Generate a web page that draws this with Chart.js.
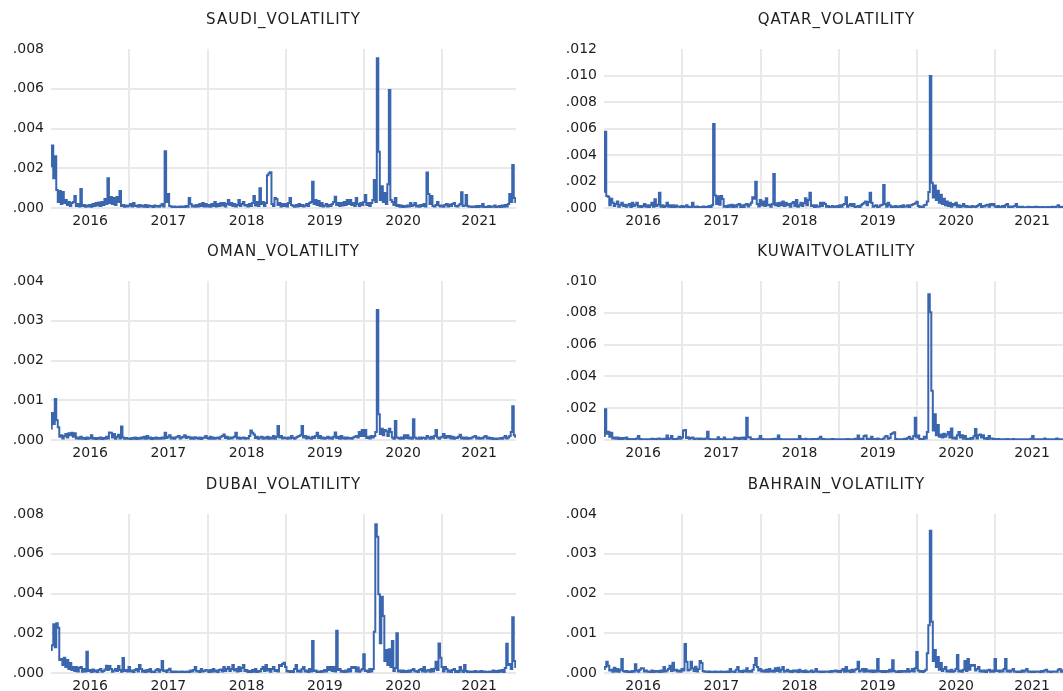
<!DOCTYPE html>
<html>
<head>
<meta charset="utf-8">
<title>GCC market volatility</title>
<script src="https://cdn.jsdelivr.net/npm/chart.js@4.4.1/dist/chart.umd.min.js"></script>
<style>
  html, body { margin: 0; padding: 0; background: #ffffff; }
  #wrap { position: relative; width: 1063px; height: 691px; overflow: hidden; background: #ffffff; }
  .panel { position: absolute; }
</style>
</head>
<body>
<div id="wrap"></div>
<script>
// Sample calendar: weekly observations, Jan 2016 to Dec 2021
const years = [2016, 2017, 2018, 2019, 2020, 2021];
const weeksPerYear = [52, 52, 52, 52, 52, 50];
const yearLabels = ['2016', '2017', '2018', '2019', '2020', '2021'];

// Volatility series, in units of 1e-5 (one row per year)
const UNIT = 1e-5;

const saudi = [
  210, 315, 150, 260, 90, 30, 85, 20, 80, 25, 40, 15, 30, 10, 25, 30, 60, 10, 20, 8, 95, 10, 15, 6, 12, 8, 15, 6, 20, 10, 25, 12, 28, 10, 30, 15, 45, 20, 150, 25, 55, 20, 50, 15, 55, 30, 85, 10, 15, 6, 12, 8,
  12, 20, 8, 25, 10, 12, 6, 15, 8, 12, 6, 15, 5, 12, 8, 10, 5, 12, 8, 10, 6, 12, 20, 8, 285, 30, 70, 10, 8, 5, 8, 4, 6, 5, 8, 4, 8, 5, 10, 6, 50, 20, 8, 12, 6, 15, 8, 20, 10, 25, 8, 20,
  8, 15, 6, 20, 10, 30, 8, 20, 10, 25, 12, 25, 8, 20, 40, 15, 25, 10, 20, 8, 15, 40, 10, 20, 30, 12, 15, 8, 20, 10, 25, 60, 12, 30, 10, 100, 20, 30, 10, 25, 165, 175, 180, 20, 10, 50, 45, 15, 25, 8, 20, 10,
  20, 8, 25, 50, 15, 10, 6, 15, 8, 20, 10, 15, 8, 12, 20, 10, 25, 30, 132, 20, 40, 15, 35, 10, 25, 8, 12, 20, 8, 15, 10, 20, 30, 57, 15, 25, 10, 25, 12, 30, 15, 40, 20, 40, 15, 25, 10, 50, 20, 10, 25, 15,
  30, 65, 15, 25, 10, 25, 40, 141, 30, 753, 283, 40, 110, 30, 75, 20, 120, 594, 40, 30, 15, 50, 10, 15, 6, 12, 5, 10, 6, 12, 8, 25, 10, 15, 25, 8, 12, 6, 15, 10, 20, 8, 178, 70, 20, 60, 10, 8, 15, 30, 12, 8,
  12, 6, 15, 20, 8, 18, 10, 20, 25, 10, 8, 12, 20, 79, 10, 12, 65, 10, 6, 8, 5, 8, 4, 10, 5, 10, 6, 20, 5, 6, 4, 10, 5, 8, 6, 12, 5, 6, 10, 5, 12, 6, 15, 8, 20, 70, 30, 216, 50, 30
];

const qatar = [
  123, 576, 90, 85, 20, 70, 40, 15, 30, 50, 10, 25, 40, 15, 25, 10, 20, 30, 8, 40, 15, 25, 40, 10, 15, 6, 15, 30, 10, 20, 8, 20, 40, 10, 66, 15, 25, 116, 10, 20, 8, 15, 40, 10, 20, 6, 20, 8, 18, 10, 12, 6,
  15, 6, 12, 20, 8, 10, 6, 40, 10, 6, 12, 5, 8, 4, 12, 6, 10, 5, 15, 8, 20, 634, 95, 30, 88, 25, 90, 68, 10, 15, 8, 20, 10, 25, 8, 20, 10, 25, 30, 8, 20, 8, 25, 30, 12, 25, 40, 81, 70, 199, 30, 12,
  60, 20, 50, 15, 73, 20, 25, 10, 30, 257, 20, 35, 15, 40, 20, 50, 15, 40, 20, 30, 10, 35, 45, 15, 60, 10, 20, 40, 15, 35, 73, 20, 60, 116, 15, 20, 8, 20, 10, 12, 40, 15, 40, 30, 10, 15, 6, 10, 15, 6, 10, 15,
  8, 20, 10, 25, 30, 81, 10, 20, 30, 15, 30, 8, 10, 15, 6, 20, 30, 40, 50, 20, 45, 116, 40, 10, 15, 20, 8, 12, 20, 25, 174, 30, 10, 40, 20, 8, 12, 5, 15, 8, 10, 15, 6, 20, 10, 12, 20, 8, 20, 25, 30, 35,
  48, 15, 8, 12, 6, 20, 25, 50, 120, 997, 191, 80, 170, 60, 130, 40, 100, 30, 70, 20, 50, 15, 40, 10, 30, 20, 40, 10, 20, 8, 15, 30, 10, 15, 8, 12, 6, 15, 10, 8, 15, 20, 30, 8, 15, 12, 20, 25, 10, 30, 20, 30,
  12, 5, 15, 8, 10, 15, 6, 20, 30, 8, 12, 5, 12, 15, 30, 8, 10, 4, 10, 5, 6, 4, 10, 5, 8, 4, 8, 10, 4, 8, 5, 4, 8, 5, 4, 8, 5, 8, 10, 4, 8, 12, 20, 6, 8, 10, 5, 12, 6, 10
];

const oman = [
  29, 68, 40, 103, 50, 32, 8, 12, 4, 10, 15, 6, 17, 12, 18, 8, 17, 4, 6, 3, 8, 3, 5, 2, 6, 3, 5, 12, 3, 5, 2, 5, 3, 6, 2, 5, 3, 8, 4, 19, 18, 6, 15, 3, 8, 13, 4, 34, 6, 3, 5, 3,
  4, 2, 5, 3, 6, 2, 5, 3, 6, 4, 8, 3, 10, 4, 6, 2, 5, 3, 6, 3, 5, 3, 6, 4, 18, 5, 8, 12, 4, 6, 3, 6, 8, 10, 4, 6, 8, 12, 5, 8, 7, 3, 6, 3, 7, 5, 3, 6, 2, 5, 6, 10,
  5, 3, 8, 3, 6, 3, 5, 6, 3, 8, 10, 14, 5, 8, 3, 6, 4, 6, 8, 18, 4, 6, 3, 5, 6, 3, 5, 4, 10, 24, 18, 14, 5, 8, 3, 6, 8, 3, 6, 4, 8, 3, 6, 4, 10, 3, 8, 35, 6, 10, 4, 6,
  5, 3, 6, 4, 10, 5, 3, 6, 8, 10, 12, 35, 6, 10, 4, 8, 5, 3, 8, 5, 10, 18, 5, 10, 4, 6, 3, 5, 8, 4, 6, 3, 8, 19, 5, 8, 3, 10, 4, 6, 3, 6, 4, 5, 3, 6, 8, 10, 6, 20, 10, 25,
  10, 25, 5, 8, 4, 10, 6, 10, 20, 327, 65, 15, 28, 12, 25, 22, 10, 28, 20, 6, 3, 48, 6, 5, 3, 6, 3, 12, 5, 12, 4, 6, 3, 52, 6, 4, 3, 6, 3, 6, 5, 3, 10, 6, 3, 8, 4, 10, 25, 6, 3, 6,
  8, 15, 5, 10, 6, 10, 4, 8, 3, 6, 5, 8, 13, 4, 6, 3, 6, 3, 5, 4, 6, 8, 10, 4, 6, 3, 5, 4, 8, 10, 4, 6, 3, 5, 2, 4, 2, 4, 3, 5, 3, 6, 10, 4, 6, 10, 20, 85, 12, 8
];

const kuwait = [
  25, 193, 40, 52, 20, 45, 10, 15, 8, 15, 6, 12, 5, 12, 8, 15, 4, 6, 3, 5, 6, 3, 10, 25, 6, 4, 5, 3, 5, 4, 5, 3, 8, 4, 6, 3, 8, 10, 4, 5, 8, 4, 28, 5, 10, 25, 5, 6, 3, 8, 20, 8,
  15, 60, 63, 12, 18, 8, 12, 15, 6, 8, 10, 5, 10, 6, 8, 4, 10, 52, 6, 5, 4, 3, 4, 2, 18, 6, 4, 3, 15, 4, 5, 3, 5, 2, 5, 15, 8, 12, 6, 14, 8, 15, 6, 140, 15, 18, 6, 4, 3, 5, 3, 8,
  25, 6, 4, 3, 5, 3, 5, 2, 6, 3, 8, 5, 28, 6, 4, 3, 4, 2, 4, 3, 5, 2, 5, 3, 5, 3, 25, 6, 4, 3, 8, 4, 5, 3, 6, 3, 6, 4, 6, 10, 20, 5, 6, 3, 4, 2, 5, 3, 6, 2, 5, 3,
  5, 2, 5, 3, 4, 2, 6, 3, 4, 5, 3, 8, 5, 28, 6, 8, 4, 25, 28, 6, 8, 4, 20, 5, 6, 4, 10, 3, 5, 3, 10, 22, 25, 8, 12, 38, 42, 48, 6, 3, 5, 2, 5, 3, 8, 4, 12, 20, 6, 8, 25, 140,
  15, 28, 5, 6, 3, 20, 10, 50, 916, 803, 310, 60, 162, 30, 94, 20, 35, 15, 40, 20, 35, 50, 15, 73, 10, 15, 8, 30, 50, 15, 30, 8, 25, 6, 8, 5, 12, 8, 23, 69, 10, 30, 35, 15, 30, 8, 12, 6, 25, 8, 10, 5,
  6, 3, 6, 2, 5, 3, 4, 2, 6, 3, 4, 2, 6, 3, 5, 2, 5, 3, 5, 2, 5, 3, 5, 4, 8, 25, 5, 3, 4, 2, 4, 3, 5, 10, 3, 4, 2, 5, 3, 4, 2, 10, 3, 5, 2, 4, 3, 6, 3, 4
];

const dubai = [
  116, 140, 245, 130, 250, 228, 65, 70, 40, 77, 30, 65, 20, 50, 15, 30, 10, 30, 8, 25, 30, 6, 20, 8, 107, 10, 15, 5, 18, 8, 12, 5, 15, 20, 6, 10, 18, 36, 15, 35, 20, 6, 12, 20, 10, 35, 15, 6, 75, 10, 15, 8,
  30, 8, 12, 5, 15, 20, 8, 40, 20, 6, 12, 4, 15, 8, 20, 5, 8, 4, 15, 20, 6, 15, 60, 10, 12, 4, 15, 22, 5, 8, 3, 8, 3, 6, 3, 8, 3, 6, 3, 8, 4, 12, 8, 15, 30, 8, 10, 4, 20, 8, 10, 15,
  12, 5, 15, 6, 20, 8, 12, 5, 15, 18, 8, 30, 10, 20, 30, 10, 20, 40, 12, 20, 8, 30, 10, 25, 40, 10, 15, 5, 10, 4, 15, 6, 20, 5, 10, 8, 20, 30, 10, 40, 12, 20, 6, 20, 30, 10, 15, 8, 40, 35, 45, 52,
  30, 8, 10, 4, 10, 5, 20, 40, 8, 12, 6, 20, 30, 8, 12, 5, 20, 8, 161, 10, 12, 4, 8, 3, 10, 6, 15, 8, 30, 15, 30, 10, 30, 8, 213, 15, 20, 6, 10, 4, 12, 6, 20, 8, 30, 25, 30, 8, 28, 6, 12, 20,
  94, 10, 12, 5, 20, 8, 20, 208, 748, 686, 396, 150, 384, 287, 60, 116, 40, 120, 30, 161, 10, 25, 200, 8, 12, 4, 12, 3, 10, 5, 12, 6, 15, 20, 8, 10, 4, 15, 20, 8, 30, 6, 12, 15, 6, 20, 8, 22, 57, 15, 149, 77,
  30, 8, 30, 20, 6, 12, 5, 15, 20, 5, 10, 4, 30, 12, 5, 40, 10, 5, 8, 3, 8, 4, 10, 3, 8, 4, 10, 3, 8, 4, 6, 3, 8, 4, 12, 5, 10, 4, 12, 6, 15, 5, 25, 147, 40, 45, 20, 280, 60, 30
];

const bahrain = [
  10, 15, 28, 18, 6, 8, 3, 13, 4, 10, 3, 8, 35, 5, 3, 5, 2, 4, 2, 5, 3, 22, 6, 3, 8, 12, 12, 4, 6, 3, 4, 2, 6, 2, 5, 3, 5, 2, 6, 3, 15, 4, 6, 10, 18, 5, 26, 6, 8, 4, 6, 3,
  10, 6, 73, 28, 6, 8, 28, 12, 5, 16, 4, 10, 30, 25, 5, 3, 4, 2, 4, 2, 3, 2, 4, 2, 3, 2, 4, 2, 3, 2, 4, 2, 10, 3, 4, 2, 8, 15, 3, 5, 2, 6, 4, 12, 3, 5, 3, 8, 20, 38, 15, 6,
  10, 4, 6, 3, 8, 3, 10, 4, 6, 3, 12, 5, 13, 3, 8, 15, 3, 5, 8, 3, 5, 2, 6, 4, 6, 2, 8, 3, 5, 2, 6, 2, 4, 3, 6, 2, 4, 10, 3, 4, 2, 4, 2, 4, 3, 4, 2, 5, 3, 5, 6, 3,
  5, 2, 6, 10, 3, 15, 4, 6, 2, 8, 3, 8, 10, 28, 4, 6, 10, 3, 10, 4, 6, 3, 6, 2, 6, 3, 35, 4, 5, 2, 5, 2, 5, 3, 8, 4, 32, 5, 3, 2, 5, 2, 5, 3, 5, 3, 10, 3, 5, 10, 4, 12,
  53, 6, 3, 5, 2, 5, 8, 50, 120, 358, 129, 30, 58, 15, 40, 8, 25, 5, 10, 15, 4, 6, 3, 8, 3, 5, 10, 45, 4, 6, 3, 8, 30, 5, 35, 8, 20, 18, 20, 6, 10, 15, 4, 6, 3, 6, 2, 6, 8, 3, 6, 3,
  35, 5, 6, 3, 6, 4, 10, 35, 4, 6, 3, 6, 10, 3, 4, 2, 4, 2, 6, 3, 6, 10, 3, 4, 2, 4, 2, 4, 3, 4, 2, 5, 3, 6, 8, 3, 4, 2, 4, 3, 4, 3, 8, 10, 3, 6, 8, 3, 4, 5
];

// Observation dates as fractional years
const dates = [];
years.forEach((y, i) => {
  for (let k = 0; k < weeksPerYear[i]; k++) dates.push(y + k / 52);
});
const xMin = years[0];
const xMax = dates[dates.length - 1];

// Year boundaries carry the grid lines; labels sit mid-way through each year
const xTicks = [];
years.forEach((y, i) => {
  if (i > 0) xTicks.push({ value: y });
  const end = Math.min(y + 1, xMax);
  xTicks.push({ value: (y + end) / 2, label: yearLabels[i] });
});

const LINE = '#3a66b0';
const GRID = '#e9e9e9';
const TEXT = '#1e1e1e';
const FONT = "'DejaVu Sans', 'Liberation Sans', sans-serif";

const panels = [
  { title: 'SAUDI_VOLATILITY',   values: saudi,   yMax: 0.008, step: 0.002, left: 0,   top: 0 },
  { title: 'QATAR_VOLATILITY',   values: qatar,   yMax: 0.012, step: 0.002, left: 553, top: 0 },
  { title: 'OMAN_VOLATILITY',    values: oman,    yMax: 0.004, step: 0.001, left: 0,   top: 232 },
  { title: 'KUWAITVOLATILITY',   values: kuwait,  yMax: 0.010, step: 0.002, left: 553, top: 232 },
  { title: 'DUBAI_VOLATILITY',   values: dubai,   yMax: 0.008, step: 0.002, left: 0,   top: 465 },
  { title: 'BAHRAIN_VOLATILITY', values: bahrain, yMax: 0.004, step: 0.001, left: 553, top: 465 }
];

// Slightly tracked title lettering
const titleSpacing = {
  id: 'titleSpacing',
  beforeDraw(chart) {
    const tb = chart.titleBlock;
    if (tb && !tb._tracked) {
      const orig = tb.draw;
      tb.draw = function (...args) {
        const c = this.ctx;
        c.save();
        c.letterSpacing = '1px';
        orig.apply(this, args);
        c.restore();
      };
      tb._tracked = true;
    }
  }
};

const wrap = document.getElementById('wrap');

panels.forEach(p => {
  const canvas = document.createElement('canvas');
  canvas.className = 'panel';
  canvas.width = 530;
  canvas.height = 232;
  canvas.style.left = p.left + 'px';
  canvas.style.top = p.top + 'px';
  canvas.style.width = '530px';
  canvas.style.height = '232px';
  wrap.appendChild(canvas);

  new Chart(canvas, {
    type: 'line',
    data: {
      datasets: [{
        data: dates.map((x, i) => ({ x: x, y: p.values[i] * UNIT })),
        borderColor: LINE,
        borderWidth: 2,
        borderJoinStyle: 'miter',
        stepped: 'middle',
        pointRadius: 0,
        fill: false
      }]
    },
    options: {
      responsive: false,
      animation: false,
      devicePixelRatio: 1,
      layout: { padding: { left: 0, right: 14, top: 0, bottom: 0 } },
      plugins: {
        legend: { display: false },
        tooltip: { enabled: false },
        title: {
          display: true,
          text: p.title,
          fullSize: false,
          color: TEXT,
          font: { family: FONT, size: 15, weight: 'normal', lineHeight: 1.2 },
          padding: { top: 11, bottom: 20 }
        }
      },
      scales: {
        x: {
          type: 'linear',
          min: xMin,
          max: xMax,
          border: { display: false },
          grid: {
            drawTicks: false,
            lineWidth: 2,
            color: ctx => (ctx.tick && Number.isInteger(ctx.tick.value)) ? GRID : 'rgba(0,0,0,0)'
          },
          afterBuildTicks: scale => { scale.ticks = xTicks.map(t => ({ value: t.value })); },
          afterFit: scale => { scale.height = 24; },
          ticks: {
            autoSkip: false,
            maxRotation: 0,
            padding: 5,
            color: TEXT,
            font: { family: FONT, size: 14 },
            callback: value => {
              const t = xTicks.find(tk => Math.abs(tk.value - value) < 1e-9);
              return t && t.label ? t.label : '';
            }
          }
        },
        y: {
          min: 0,
          max: p.yMax,
          border: { display: false },
          grid: {
            drawTicks: false,
            lineWidth: 2,
            color: ctx => (ctx.tick && ctx.tick.value >= p.yMax - 1e-9) ? 'rgba(0,0,0,0)' : GRID
          },
          afterFit: scale => { scale.width = 51; },
          ticks: {
            stepSize: p.step,
            padding: 7,
            color: TEXT,
            font: { family: FONT, size: 14 },
            callback: value => Number(value).toFixed(3).replace(/^0/, '')
          }
        }
      }
    },
    plugins: [titleSpacing]
  });
});
</script>
</body>
</html>
